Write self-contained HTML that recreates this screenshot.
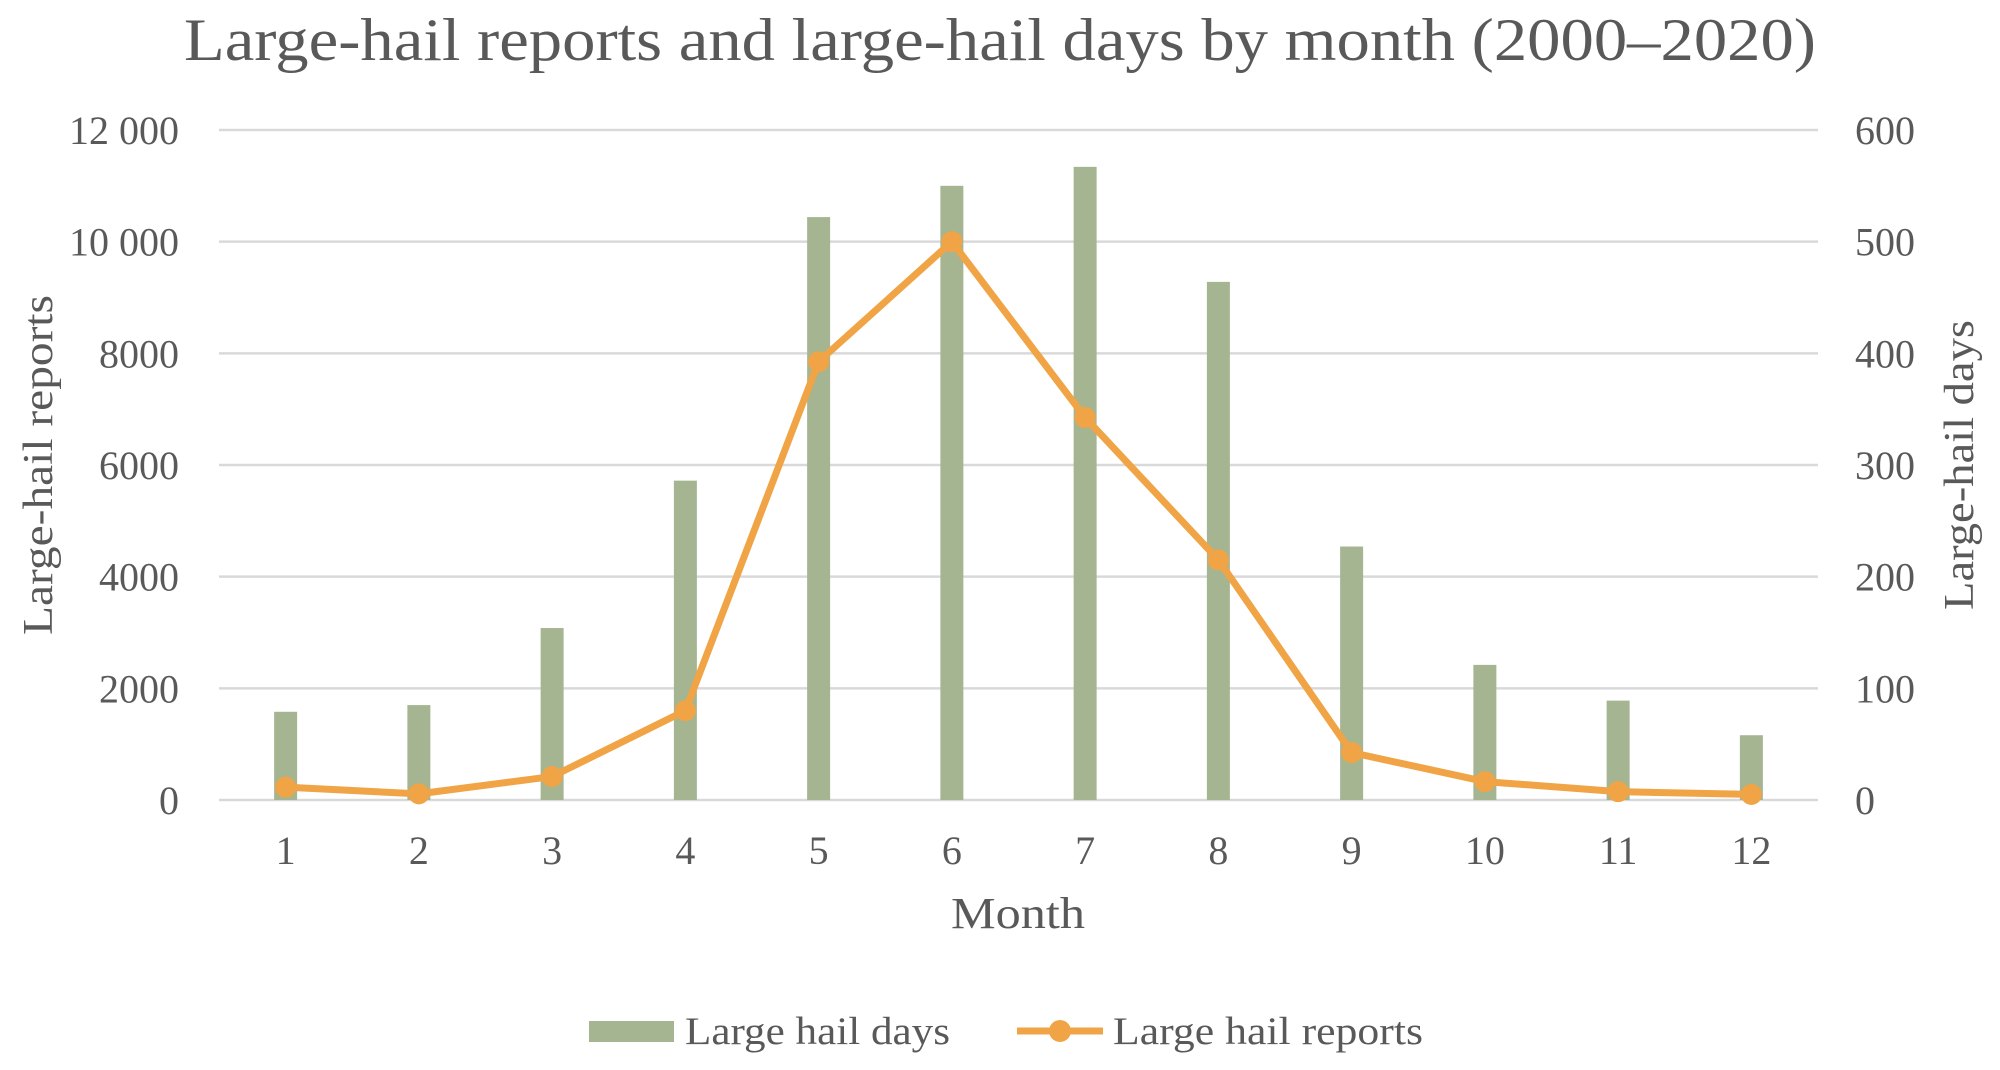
<!DOCTYPE html>
<html><head><meta charset="utf-8"><style>
body{margin:0;background:#fff}
svg text{font-family:"Liberation Serif",serif;fill:#595959}
</style></head><body>
<svg id="c" width="2000" height="1065" xmlns="http://www.w3.org/2000/svg">
<text x="1000" y="60" font-size="60" text-anchor="middle" textLength="1632" lengthAdjust="spacingAndGlyphs">Large-hail reports and large-hail days by month (2000–2020)</text>
<g id="grid"></g><g id="bars"></g><g id="line"></g><g id="labels"></g>
<text transform="translate(52,465) rotate(-90)" font-size="42" text-anchor="middle" textLength="340" lengthAdjust="spacingAndGlyphs">Large-hail reports</text>
<text transform="translate(1973,465) rotate(-90)" font-size="42" text-anchor="middle" textLength="290" lengthAdjust="spacingAndGlyphs">Large-hail days</text>
<text x="1018" y="928" font-size="44" text-anchor="middle" textLength="134" lengthAdjust="spacingAndGlyphs">Month</text>
<g>
<rect x="589" y="1021" width="85" height="21" fill="#a5b592"/>
<text x="685" y="1044" font-size="39" textLength="265" lengthAdjust="spacingAndGlyphs">Large hail days</text>
<line x1="1017" y1="1031" x2="1103" y2="1031" stroke="#f0a445" stroke-width="7"/>
<circle cx="1060" cy="1031" r="11" fill="#f0a445"/>
<text x="1113" y="1044" font-size="39" textLength="310" lengthAdjust="spacingAndGlyphs">Large hail reports</text>
</g>
</svg>
<script>
const months=[1,2,3,4,5,6,7,8,9,10,11,12];
const days=[79,85,154,286,522,550,567,464,227,121,89,58];
const reports=[230,110,420,1600,7850,10000,6850,4300,850,330,150,100];
const leftTicks=[0,2000,4000,6000,8000,10000,12000];
const leftTickLabels=["0","2000","4000","6000","8000","10 000","12 000"];
const rightTicks=[0,100,200,300,400,500,600];
const NS="http://www.w3.org/2000/svg";
const X0=219,X1=1818,Y0=800,Y1=130;
const step=(X1-X0)/12;
const x=i=>X0+step*(i+0.5);
const yL=v=>Y0-(v/12000)*(Y0-Y1);
const yR=v=>Y0-(v/600)*(Y0-Y1);
function mk(t,a,p){const e=document.createElementNS(NS,t);for(const k in a)e.setAttribute(k,a[k]);p.appendChild(e);return e;}
const g=document.getElementById('grid'),lb=document.getElementById('labels');
leftTicks.forEach((v,i)=>{
 const l=mk('line',{x1:X0,x2:X1,y1:yL(v),y2:yL(v),stroke:'#d9d9d9','stroke-width':2.5},g);
 
 
 const t=mk('text',{x:179,y:yL(v)+14,'font-size':40,'text-anchor':'end'},lb);t.textContent=leftTickLabels[i];
 
 
});
rightTicks.forEach(v=>{
 const t=mk('text',{x:1855,y:yR(v)+14,'font-size':40},lb);t.textContent=v;
 
 
});
months.forEach((m,i)=>{
 const t=mk('text',{x:x(i),y:864,'font-size':40,'text-anchor':'middle'},lb);t.textContent=m;
 
 
});
const b=document.getElementById('bars');
days.forEach((v,i)=>{
 const r=mk('rect',{x:x(i)-11.5,y:yR(v),width:23,height:Y0-yR(v),fill:'#a5b592'},b);
 
 
});
const ln=document.getElementById('line');
const p=mk('polyline',{points:reports.map((v,i)=>x(i)+','+yL(v)).join(' '),fill:'none',stroke:'#f0a445','stroke-width':7,'stroke-linejoin':'round'},ln);


reports.forEach((v,i)=>{
 const c=mk('circle',{cx:x(i),cy:yL(v),r:10.5,fill:'#f0a445'},ln);
 
 
});
</script>
</body></html>
